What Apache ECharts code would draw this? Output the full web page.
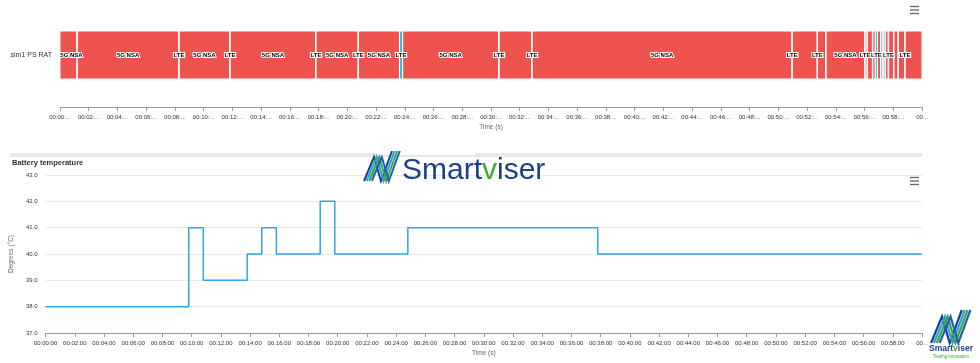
<!DOCTYPE html>
<html><head><meta charset="utf-8">
<script src="https://cdn.jsdelivr.net/npm/echarts@6/dist/echarts.min.js"></script>
<style>html,body{margin:0;padding:0;background:#fff}#c{width:980px;height:363px}</style>
</head><body><div id="c"></div>
<script>
// ---------- data ----------
const ratCategories = ['sim1 PS RAT'];
const ratNames = ['5G NSA','LTE','5G NSA','LTE','5G NSA','LTE','5G NSA','LTE','5G NSA','LTE','5G NSA','LTE','5G NSA','LTE','5G NSA','LTE','5G NSA','LTE','5G NSA','LTE','5G NSA','LTE','5G NSA',
  'LTE','5G NSA','LTE','5G NSA','LTE','5G NSA','LTE','5G NSA','LTE','5G NSA','LTE','5G NSA','LTE','5G NSA','LTE','5G NSA','LTE','5G NSA','LTE','5G NSA'];
const ratStart = [0,1.18,1.21,8.27,8.30,11.82,11.85,17.80,17.83,20.75,20.78,23.63,23.85,30.54,30.57,32.84,32.87,50.95,50.98,52.70,52.73,53.30,53.33,
  56.02,56.05,56.18,56.21,56.55,56.58,56.75,56.90,57.12,57.24,57.35,57.45,57.65,57.68,58.02,58.05,58.33,58.36,58.80,58.83];
const ratEnd = [1.18,1.21,8.27,8.30,11.82,11.85,17.80,17.83,20.75,20.78,23.63,23.85,30.54,30.57,32.84,32.87,50.95,50.98,52.70,52.73,53.30,53.33,56.02,
  56.05,56.18,56.21,56.55,56.58,56.75,56.90,57.12,57.24,57.35,57.45,57.65,57.68,58.02,58.05,58.33,58.36,58.80,58.83,60];
const ratColors = {'5G NSA':'#EF5350','LTE':'#26C6DA'};

const tempTimes  = [0, 9.8, 10.8, 13.8, 14.8, 15.8, 18.8, 19.8, 24.8, 37.8, 60];
const tempValues = [38, 41, 39, 40, 41, 40, 42, 40, 41, 40, 40];

const timeTickLabels = ['00:00:00','00:02:00','00:04:00','00:06:00','00:08:00','00:10:00','00:12:00','00:14:00','00:16:00','00:18:00',
  '00:20:00','00:22:00','00:24:00','00:26:00','00:28:00','00:30:00','00:32:00','00:34:00','00:36:00','00:38:00',
  '00:40:00','00:42:00','00:44:00','00:46:00','00:48:00','00:50:00','00:52:00','00:54:00','00:56:00','00:58:00','00...'];
const timeMin = 0, timeMax = 60, timeStep = 2;
const tempMin = 37, tempMax = 43, tempStep = 1;

// ---------- chart ----------
const FONT = '"Liberation Sans", Arial, sans-serif';
const chart = echarts.init(document.getElementById('c'), null, {renderer:'canvas'});

let lastRight = -Infinity;
function renderRat(params, api) {
  if (params.dataIndex === 0) lastRight = -Infinity;
  const name = ratNames[params.dataIndex];
  const p0 = api.coord([api.value(0), 0]);
  const p1 = api.coord([api.value(1), 0]);
  const h = 48;
  const cs = params.coordSys;
  const x0 = p0[0], x1 = p1[0], yc = p0[1];
  const lw = name === 'LTE' ? 11 : 23;
  let cx = (x0 + x1) / 2;
  cx = Math.max(cx, cs.x + lw / 2);
  cx = Math.min(cx, cs.x + cs.width - lw / 2);
  let show = false;
  if (cx - lw / 2 >= lastRight) { show = true; lastRight = cx + lw / 2; }
  return {
    type: 'group',
    children: [
      {type:'rect', shape:{x:x0, y:yc - h/2, width:Math.max(x1 - x0, 0.3), height:h},
       style:{fill:ratColors[name], stroke:'#fff', lineWidth:1}},
      {type:'text', ignore:!show, z2:10,
       style:{text:name, x:cx, y:yc, align:'center', verticalAlign:'middle', fill:'#000',
              stroke:'#fff', lineWidth:2, fontSize:6, fontWeight:'bold', fontFamily:FONT}}
    ]
  };
}

function tickLabel(v) { return timeTickLabels[Math.round((v - timeMin) / timeStep)]; }
function tickLabelShort(v) {
  const s = tickLabel(v);
  return s.length > 6 && s.indexOf('...') < 0 ? s.slice(0, 6) + '...' : s;
}

function hamburger(y) {
  return [0,3.5,7].map(d => ({type:'line', shape:{x1:910, y1:y+d, x2:919, y2:y+d},
    style:{stroke:'#666', lineWidth:1.3}}));
}
function iconLines(ox, oy, s, lw) {
  const cols = ['#1a3f8f','#2e9be0','#3aaa35','#1f5fb8'];
  return cols.map((c, i) => ({type:'polyline', z:20,
    shape:{points:[[ox + i*2.6*s, oy + 30*s],[ox + 10*s + i*2.6*s, oy + 6*s],[ox + 17*s + i*2.6*s, oy + 30*s],[ox + 28*s + i*2.6*s, oy]]},
    style:{stroke:c, lineWidth:lw, fill:null}}));
}

const option = {
  animation: false,
  textStyle: {fontFamily: FONT},
  grid: [
    {left:60, right:58, top:3, height:104},
    {left:45, right:58, top:175, height:158}
  ],
  xAxis: [
    {type:'value', gridIndex:0, min:timeMin, max:timeMax, interval:timeStep, position:'bottom',
     name:'Time (s)', nameLocation:'middle', nameGap:17, nameTextStyle:{fontSize:6.5, color:'#666'},
     axisLine:{show:true, onZero:false, lineStyle:{color:'#999', width:1}}, axisTick:{show:true, length:4, lineStyle:{color:'#999'}},
     axisLabel:{fontSize:6, color:'#333', margin:7, formatter:tickLabelShort, hideOverlap:false},
     splitLine:{show:false}},
    {type:'value', gridIndex:1, min:timeMin, max:timeMax, interval:timeStep,
     name:'Time (s)', nameLocation:'middle', nameGap:17, nameTextStyle:{fontSize:6.5, color:'#666'},
     axisLine:{onZero:false, lineStyle:{color:'#999'}}, axisTick:{length:4, lineStyle:{color:'#999'}},
     axisLabel:{fontSize:6, color:'#333', margin:7, formatter:tickLabel, hideOverlap:false},
     splitLine:{show:false}}
  ],
  yAxis: [
    {type:'category', gridIndex:0, data:ratCategories,
     axisLine:{show:false}, axisTick:{show:false},
     axisLabel:{fontSize:7, color:'#333', margin:8}},
    {type:'value', gridIndex:1, min:tempMin, max:tempMax, interval:tempStep,
     name:'Degrees (°C)', nameLocation:'middle', nameGap:25, nameRotate:90,
     nameTextStyle:{fontSize:6.5, color:'#666'},
     axisLine:{show:false}, axisTick:{show:false},
     axisLabel:{fontSize:6, color:'#333', margin:8, formatter:v => v.toFixed(1)},
     splitLine:{lineStyle:{color:'#e9e9e9', width:1}}}
  ],
  series: [
    {type:'custom', xAxisIndex:0, yAxisIndex:0, renderItem:renderRat, clip:false,
     data: ratNames.map((n, i) => ({name:n, value:[ratStart[i], ratEnd[i], 0]})),
     encode:{x:[0,1], y:2}},
    {type:'line', xAxisIndex:1, yAxisIndex:1, step:'end', showSymbol:false,
     lineStyle:{color:'#2ea7e8', width:1.5}, itemStyle:{color:'#2ea7e8'},
     data: tempTimes.map((t, i) => [t, tempValues[i]])}
  ],
  graphic: [].concat(
    [{type:'rect', shape:{x:10, y:153, width:912, height:4}, style:{fill:'#e8e8e8'}},
     {type:'rect', shape:{x:378, y:150, width:97, height:5}, style:{fill:'#fff'}},
     {type:'text', x:12, y:163, style:{text:'Battery temperature', fontSize:7.5, fontWeight:'bold', fill:'#333',
       fontFamily:FONT, verticalAlign:'middle'}},
     {type:'text', x:402, y:171, z:20, style:{
       text:'{b|Smart}{g|v}{b|iser}', verticalAlign:'middle',
       rich:{b:{fontSize:30, fill:'#1c3f8c', fontFamily:FONT}, g:{fontSize:30, fill:'#3aaa35', fontFamily:FONT}}}},
     {type:'text', x:951, y:349, z:20, style:{
       text:'{b|Smart}{g|v}{b|iser}', align:'center', verticalAlign:'middle',
       rich:{b:{fontSize:8.5, fontWeight:'bold', fill:'#1c3f8c', fontFamily:FONT}, g:{fontSize:8.5, fontWeight:'bold', fill:'#3aaa35', fontFamily:FONT}}}},
     {type:'text', x:951, y:356.5, z:20, style:{text:'Testing innovation', fontSize:4.5, fill:'#3aaa35',
       align:'center', verticalAlign:'middle', fontFamily:FONT}}
    ],
    iconLines(364, 151, 1, 2),
    iconLines(931, 310, 1.1, 2.2),
    hamburger(6.5),
    hamburger(177.5)
  )
};
chart.setOption(option);
</script></body></html>
